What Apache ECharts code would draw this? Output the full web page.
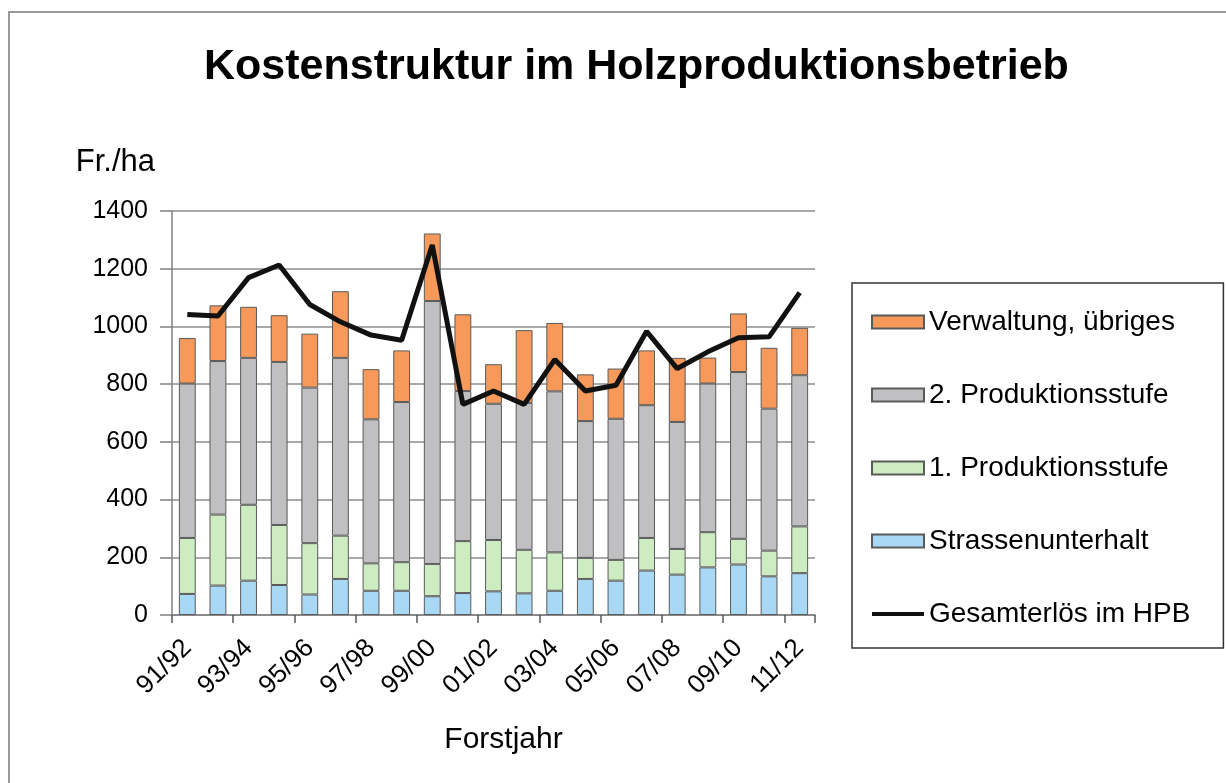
<!DOCTYPE html>
<html>
<head>
<meta charset="utf-8">
<script src="https://cdn.jsdelivr.net/npm/echarts@6/dist/echarts.min.js"></script>
<style>
  html, body { margin: 0; padding: 0; background: #fff; }
  #container { width: 1226px; height: 783px; }
</style>
</head>
<body>
<div id="container"></div>
<script>
const years = ['91/92', '92/93', '93/94', '94/95', '95/96', '96/97', '97/98', '98/99', '99/00', '00/01',
  '01/02', '02/03', '03/04', '04/05', '05/06', '06/07', '07/08', '08/09', '09/10', '10/11', '11/12'];

// Fr./ha, stacked from bottom
const strassen = [73, 102, 119, 104, 71, 125, 84, 84, 65, 76, 82, 75, 84, 125, 119, 154, 140, 165, 175, 134, 145];
const stufe1 = [194, 246, 263, 208, 178, 150, 95, 99, 112, 180, 178, 151, 133, 73, 72, 113, 89, 122, 89, 89, 162];
const stufe2 = [535, 532, 509, 565, 539, 616, 499, 555, 911, 520, 472, 509, 558, 474, 489, 460, 440, 515, 578, 492, 524];
const verwaltung = [158, 193, 177, 162, 187, 231, 174, 179, 234, 266, 137, 252, 237, 162, 174, 190, 222, 90, 203, 211, 164];
const erloes = [1041, 1036, 1169, 1213, 1076, 1016, 970, 952, 1282, 730, 776, 730, 885, 776, 796, 983, 854, 912, 961, 964, 1117];

const dom = document.getElementById('container');
const myChart = echarts.init(dom);

const font = 'Liberation Sans, Arial, sans-serif';

const barSeries = (name, data, color) => ({
  name: name,
  type: 'bar',
  stack: 'kosten',
  barWidth: '55%',
  data: data,
  itemStyle: { color: color, borderColor: '#5a5a5a', borderWidth: 1 }
});

const option = {
  animation: false,
  textStyle: { fontFamily: font, color: '#000' },
  title: {
    text: 'Kostenstruktur im Holzproduktionsbetrieb',
    left: 199,
    top: 41,
    textStyle: { fontFamily: font, fontSize: 43, fontWeight: 'bold', color: '#000' }
  },
  graphic: [
    {
      type: 'rect',
      shape: { x: 9, y: 12, width: 1240, height: 800 },
      style: { fill: 'none', stroke: '#9a9a9a', lineWidth: 2 },
      silent: true
    }
  ],
  legend: {
    orient: 'vertical',
    left: 852,
    top: 283,
    padding: [25, 33, 20, 18],
    itemGap: 45,
    itemWidth: 52,
    itemHeight: 13,
    backgroundColor: '#fff',
    borderColor: '#333',
    borderWidth: 1.5,
    borderRadius: 0,
    textStyle: { fontFamily: font, fontSize: 28, color: '#000', lineHeight: 26 },
    data: [
      { name: 'Verwaltung, übriges', icon: 'rect' },
      { name: '2. Produktionsstufe', icon: 'rect' },
      { name: '1. Produktionsstufe', icon: 'rect' },
      { name: 'Strassenunterhalt', icon: 'rect' },
      { name: 'Gesamterlös im HPB', itemStyle: { opacity: 0 }, lineStyle: { width: 4 } }
    ]
  },
  grid: { left: 172, right: 411, top: 211, bottom: 168 },
  xAxis: {
    type: 'category',
    data: years,
    name: 'Forstjahr',
    nameLocation: 'middle',
    nameGap: 110,
    nameTextStyle: { fontFamily: font, fontSize: 30, color: '#000', padding: [0, 0, 0, 20] },
    axisLine: { lineStyle: { color: '#808080', width: 1.5 } },
    axisTick: { show: true, length: 8, lineStyle: { color: '#555', width: 1.5 } },
    axisLabel: {
      interval: 1,
      rotate: 45,
      margin: 29,
      fontFamily: font,
      fontSize: 26,
      color: '#000'
    }
  },
  yAxis: {
    type: 'value',
    min: 0,
    max: 1400,
    interval: 200,
    name: 'Fr./ha',
    nameLocation: 'end',
    nameGap: 33,
    nameTextStyle: { fontFamily: font, fontSize: 31, color: '#000', align: 'right', padding: [0, 17, 0, 0] },
    axisLine: { show: true, lineStyle: { color: '#808080', width: 1.5 } },
    axisTick: { show: true, length: 12, lineStyle: { color: '#808080', width: 1.5 } },
    axisLabel: { margin: 24, fontFamily: font, fontSize: 25, color: '#000', formatter: v => String(v) },
    splitLine: { lineStyle: { color: '#8c8c8c', width: 1.5 } }
  },
  series: [
    barSeries('Strassenunterhalt', strassen, '#a8d8f4'),
    barSeries('1. Produktionsstufe', stufe1, '#cdecc2'),
    barSeries('2. Produktionsstufe', stufe2, '#c0c0c2'),
    barSeries('Verwaltung, übriges', verwaltung, '#f7995a'),
    {
      name: 'Gesamterlös im HPB',
      type: 'line',
      data: erloes,
      showSymbol: false,
      symbol: 'none',
      lineStyle: { color: '#111', width: 5 },
      itemStyle: { color: '#111' },
      z: 5
    }
  ]
};

myChart.setOption(option);
</script>
</body>
</html>
